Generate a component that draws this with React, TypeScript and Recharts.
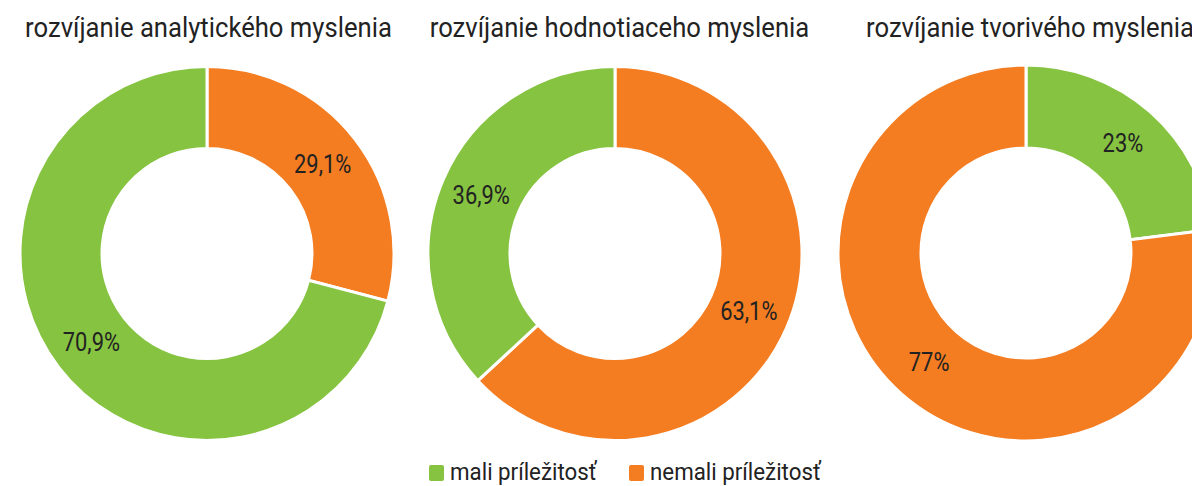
import React from 'react';
import { PieChart, Pie, Cell, Legend } from 'recharts';

const categories = ['mali príležitosť', 'nemali príležitosť'];
const colors = ['#85c341', '#f47c21'];

const titles = [
  'rozvíjanie analytického myslenia',
  'rozvíjanie hodnotiaceho myslenia',
  'rozvíjanie tvorivého myslenia',
];

// values: [mali, nemali]
const analyticke = [70.9, 29.1];
const hodnotiace = [36.9, 63.1];
const tvorive = [23, 77];

// which category is drawn first clockwise from 12 o'clock
const firstSlice = [1, 1, 0];

const valueLabels = [
  ['70,9%', '29,1%'],
  ['36,9%', '63,1%'],
  ['23%', '77%'],
];

const seriesValues = [analyticke, hodnotiace, tvorive];

const FONT = 'Roboto, "Noto Sans", sans-serif';

const layout = [
  { cx: 207, cy: 253.5, r: 187, tx: 208.5 },
  { cx: 615, cy: 253.5, r: 187, tx: 619.5 },
  { cx: 1026, cy: 253, r: 188, tx: 1030 },
];

const RAD = Math.PI / 180;

function makeData(i: number) {
  const order = firstSlice[i] === 0 ? [0, 1] : [1, 0];
  return order.map((k) => ({
    name: categories[k],
    value: seriesValues[i][k],
    label: valueLabels[i][k],
    color: colors[k],
  }));
}

const renderLabel = (props: any) => {
  const { cx, cy, midAngle, innerRadius, outerRadius, payload } = props;
  const r = (innerRadius + outerRadius) / 2;
  const x = cx + r * Math.cos(-midAngle * RAD);
  const y = cy + r * Math.sin(-midAngle * RAD);
  return (
    <text
      transform={`translate(${x},${y}) scale(0.875,1)`}
      x={0}
      y={0}
      textAnchor="middle"
      dominantBaseline="central"
      fontFamily={FONT}
      fontSize={25}
      fill="#222222"
    >
      {payload.label}
    </text>
  );
};

const LegendContent = () => (
  <div
    style={{
      display: 'flex',
      alignItems: 'center',
      fontFamily: FONT,
      fontSize: 23,
      lineHeight: '26px',
      color: '#222222',
      paddingLeft: 429,
    }}
  >
    {categories.map((c, k) => (
      <div key={c} style={{ display: 'flex', alignItems: 'center', marginRight: k === 0 ? 31 : 0 }}>
        <div style={{ width: 15, height: 16, background: colors[k], borderRadius: 2, marginRight: 6 }} />
        <span style={{ display: 'inline-block', transform: 'scaleX(0.97)', transformOrigin: 'left center', whiteSpace: 'nowrap', width: k === 0 ? 148 : 174 }}>
          {c}
        </span>
      </div>
    ))}
  </div>
);

export default function App() {
  return (
    <div style={{ position: 'fixed', left: 0, top: 0, width: 1192, height: 486, background: '#fff', overflow: 'hidden' }}>
      <PieChart width={1192} height={486} margin={{ top: 0, right: 0, bottom: 0, left: 0 }}>
        {layout.map((l, i) => (
          <Pie
            key={i}
            data={makeData(i)}
            dataKey="value"
            nameKey="name"
            cx={l.cx}
            cy={l.cy}
            innerRadius={105}
            outerRadius={l.r}
            startAngle={90}
            endAngle={-270}
            stroke="#ffffff"
            strokeWidth={3}
            label={renderLabel}
            labelLine={false}
            isAnimationActive={false}
          >
            {makeData(i).map((d) => (
              <Cell key={d.name} fill={d.color} />
            ))}
          </Pie>
        ))}
      </PieChart>
      <div style={{ position: 'absolute', left: 0, top: 460, width: 1192, height: 26 }}>
        <PieChart width={1192} height={26} margin={{ top: 0, right: 0, bottom: 0, left: 0 }}>
          <Legend
            verticalAlign="bottom"
            content={LegendContent}
            wrapperStyle={{ position: 'absolute', top: 0, left: 0, width: 1192, height: 26, overflow: 'visible' }}
          />
        </PieChart>
      </div>
      <svg width={1192} height={60} style={{ position: 'absolute', left: 0, top: 0 }}>
        {titles.map((t, i) => (
          <text
            key={t}
            transform={`translate(${layout[i].tx},37) scale(0.95,1)`}
            textAnchor="middle"
            fontFamily={FONT}
            fontSize={27}
            fill="#222222"
          >
            {t}
          </text>
        ))}
      </svg>
    </div>
  );
}
